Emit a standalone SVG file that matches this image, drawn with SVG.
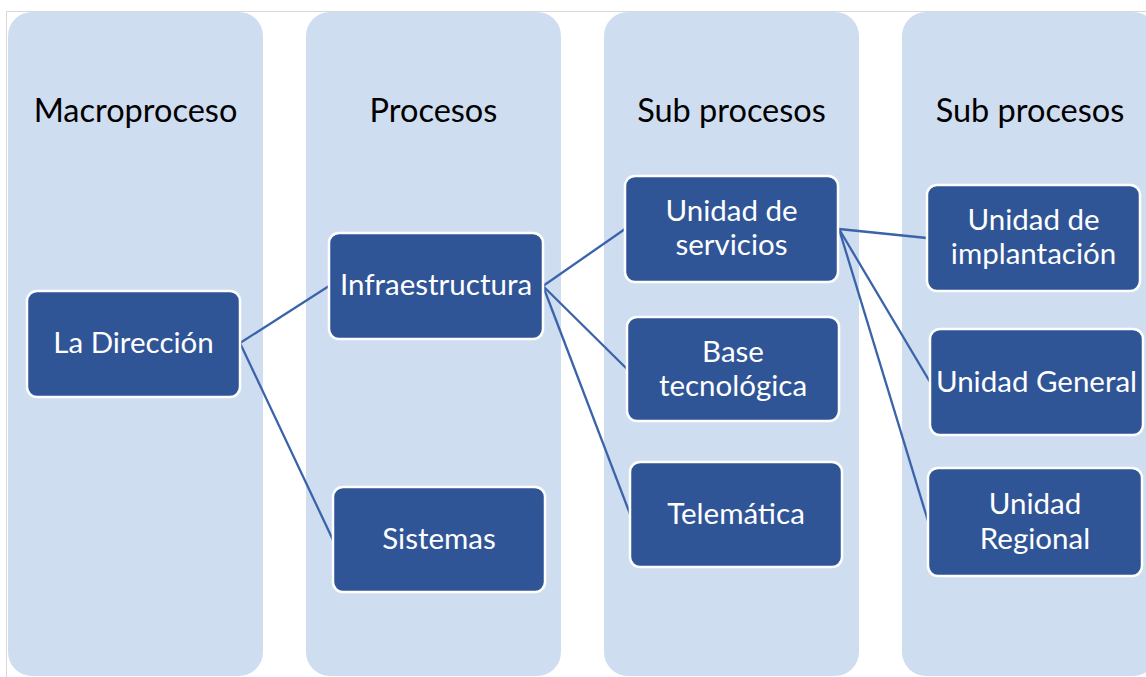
<svg xmlns="http://www.w3.org/2000/svg" width="1146" height="677" viewBox="0 0 1146 677">
<style>
.col{fill:#CFDDF0;}
.hdr{font-family:Lato,"Liberation Sans",sans-serif;font-size:32.5px;fill:#000;text-anchor:middle;}
.box{fill:#2F5597;stroke:#fff;stroke-width:2.5;}
.lbl{font-family:Lato,"Liberation Sans",sans-serif;font-size:29.5px;fill:#fff;text-anchor:middle;}
.con{stroke:#3B63A9;stroke-width:2.3;fill:none;}
</style>
<rect x="0" y="0" width="1146" height="677" fill="#fff"/>
<path d="M6.5,677 V11.5 H1146" fill="none" stroke="#D9D9D9" stroke-width="1"/>
<g id="columns">
<rect class="col" x="8" y="12" width="255" height="664" rx="24"/>
<rect class="col" x="306" y="12" width="255" height="664" rx="24"/>
<rect class="col" x="604" y="12" width="255" height="664" rx="24"/>
<rect class="col" x="902" y="12" width="255" height="664" rx="24"/>
</g>
<g id="headers">
<text class="hdr" x="135.5" y="122">Macroproceso</text>
<text class="hdr" x="433.5" y="122">Procesos</text>
<text class="hdr" x="731.5" y="122">Sub procesos</text>
<text class="hdr" x="1030" y="122">Sub procesos</text>
</g>
<g id="connectors">
<line class="con" x1="240" y1="343" x2="329" y2="286"/>
<line class="con" x1="240" y1="343" x2="333" y2="540"/>
<line class="con" x1="543" y1="286" x2="625" y2="229"/>
<line class="con" x1="543" y1="286" x2="627" y2="369"/>
<line class="con" x1="543" y1="286" x2="630" y2="514"/>
<line class="con" x1="839" y1="229" x2="927" y2="238"/>
<line class="con" x1="839" y1="229" x2="930" y2="382"/>
<line class="con" x1="839" y1="229" x2="928" y2="521"/>
</g>
<g id="n-direccion">
<rect class="box" x="27" y="291" width="213" height="106" rx="10"/>
<text class="lbl" x="133.5" y="353">La Dirección</text>
</g>
<g id="n-infraestructura">
<rect class="box" x="329" y="233" width="214" height="106" rx="10"/>
<text class="lbl" x="436" y="295">Infraestructura</text>
</g>
<g id="n-sistemas">
<rect class="box" x="333" y="487" width="212" height="105" rx="10"/>
<text class="lbl" x="439" y="549">Sistemas</text>
</g>
<g id="n-servicios">
<rect class="box" x="625" y="176" width="213" height="106" rx="10"/>
<text class="lbl" x="731.5" y="221">Unidad de</text>
<text class="lbl" x="731.5" y="255">servicios</text>
</g>
<g id="n-base">
<rect class="box" x="627" y="317" width="212" height="104" rx="10"/>
<text class="lbl" x="733" y="362">Base</text>
<text class="lbl" x="733" y="396">tecnológica</text>
</g>
<g id="n-telematica">
<rect class="box" x="630" y="462" width="212" height="105" rx="10"/>
<text class="lbl" x="736" y="524">Telemática</text>
</g>
<g id="n-implantacion">
<rect class="box" x="927" y="185" width="213" height="106" rx="10"/>
<text class="lbl" x="1033.5" y="230">Unidad de</text>
<text class="lbl" x="1033.5" y="264">implantación</text>
</g>
<g id="n-general">
<rect class="box" x="930" y="329" width="213" height="106" rx="10"/>
<text class="lbl" x="1036.5" y="392">Unidad General</text>
</g>
<g id="n-regional">
<rect class="box" x="928" y="468" width="214" height="108" rx="10"/>
<text class="lbl" x="1035" y="514">Unidad</text>
<text class="lbl" x="1035" y="549">Regional</text>
</g>
</svg>
